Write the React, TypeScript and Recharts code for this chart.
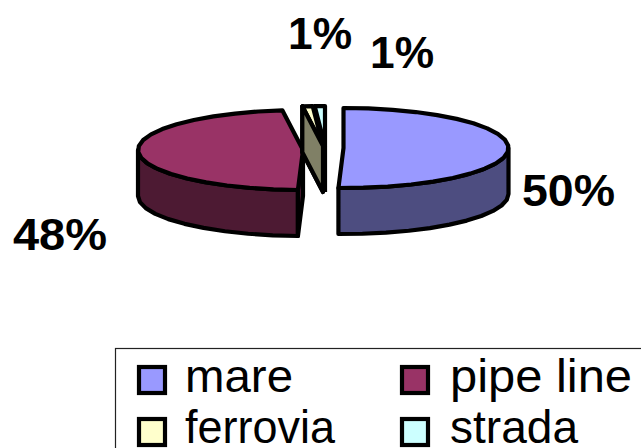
import React from "react";
import { PieChart, Pie, Legend } from "recharts";

const categories = ["mare", "pipe line", "ferrovia", "strada"];
const shares = [50.49, 47.51, 1, 1];
const topColors = ["#9999ff", "#993366", "#ffffcc", "#ccffff"];
const wallColors = ["#4d4d80", "#4d1a33", "#808066", "#668080"];

const rows = categories.map((name, i) => ({ name, value: shares[i], fill: topColors[i] }));

const FONT = "'Liberation Sans', Arial, sans-serif";
const RY = 40;
const DEPTH = 46;
const STROKE = 4.2;
const EXPLODE: Record<string, [number, number]> = {
  mare: [20, 0],
  "pipe line": [-20.5, 2],
  ferrovia: [-0.5, -2],
  strada: [1.5, -2],
};
const LABELS = [
  { x: 522, y: 206, w: 93 },
  { x: 13, y: 250, w: 94 },
  { x: 288, y: 49, w: 64 },
  { x: 370, y: 68, w: 64 },
];

const pts = (list: number[][]) => list.map((p) => p.join(",")).join(" ");

function rim(cx: number, cy: number, r: number, a0: number, a1: number) {
  const out: number[][] = [];
  const n = Math.max(1, Math.ceil(Math.abs(a1 - a0) / 9));
  for (let i = 0; i <= n; i++) {
    const a = ((a0 + ((a1 - a0) * i) / n) * Math.PI) / 180;
    out.push([cx + r * Math.cos(a), cy - RY * Math.sin(a)]);
  }
  return out;
}

function Slice(props: any) {
  const { outerRadius, startAngle, endAngle, name } = props;
  const i = categories.indexOf(name ?? props.payload?.name);
  const [dx, dy] = EXPLODE[categories[i]];
  const cx = props.cx + dx;
  const cy = props.cy + dy;
  const style = { stroke: "#000", strokeWidth: STROKE, strokeLinejoin: "round" as const };
  const top = [[cx, cy], ...rim(cx, cy, outerRadius, startAngle, endAngle)];
  const lo = Math.max(endAngle, -180);
  const hi = Math.min(startAngle, 0);
  const outer = hi > lo ? rim(cx, cy, outerRadius, hi, lo) : [];
  const outerWall = [...outer, ...outer.map(([x, y]) => [x, y + DEPTH]).reverse()];
  const edge = rim(cx, cy, outerRadius, startAngle, startAngle)[0];
  const cut = [[cx, cy], edge, [edge[0], edge[1] + DEPTH], [cx, cy + DEPTH]];
  const hasCut = i === 1 || i === 2;
  return (
    <g>
      {outerWall.length > 0 && <polygon points={pts(outerWall)} fill={wallColors[i]} {...style} />}
      {hasCut && <polygon points={pts(cut)} fill={wallColors[i]} {...style} />}
      {i === 3 && <line x1={cx} y1={cy} x2={cx} y2={cy + DEPTH} {...style} />}
      <polygon points={pts(top)} fill={topColors[i]} {...style} />
      {i === 2 && <polygon points={pts(cut)} fill={wallColors[i]} {...style} />}
    </g>
  );
}

function PercentLabel(props: any) {
  const { index, percent } = props;
  const s = LABELS[index];
  return (
    <text
      x={s.x}
      y={s.y}
      fontFamily={FONT}
      fontWeight="bold"
      fontSize={45}
      fill="#000"
      textLength={s.w}
      lengthAdjust="spacingAndGlyphs"
    >
      {Math.round(percent * 100)}%
    </text>
  );
}

const LEGEND_SLOTS = [
  { sx: 139, tx: 185, base: 392, sy: 367, w: 108 },
  { sx: 402, tx: 450, base: 392, sy: 367, w: 182 },
  { sx: 139, tx: 185, base: 443, sy: 419, w: 150 },
  { sx: 402, tx: 450, base: 443, sy: 419, w: 128 },
];

function LegendBox() {
  return (
    <svg width={641} height={448} style={{ position: "absolute", left: 0, top: 0 }}>
      <rect x={115.5} y={348.5} width={600} height={200} fill="none" stroke="#222" strokeWidth={1.2} />
      {categories.map((name, i) => {
        const s = LEGEND_SLOTS[i];
        return (
          <g key={name}>
            <rect x={s.sx} y={s.sy} width={26} height={26} fill={topColors[i]} stroke="#000" strokeWidth={4.2} />
            <text
              x={s.tx}
              y={s.base}
              fontFamily={FONT}
              fontSize={46}
              fill="#000"
              textLength={s.w}
              lengthAdjust="spacingAndGlyphs"
            >
              {name}
            </text>
          </g>
        );
      })}
    </svg>
  );
}

export default function App() {
  return (
    <div style={{ position: "absolute", left: 0, top: 0, width: 641, height: 448, overflow: "hidden", background: "#fff" }}>
      <PieChart width={641} height={448} margin={{ top: 0, right: 0, bottom: 0, left: 0 }}>
        <Pie
          data={rows}
          dataKey="value"
          nameKey="name"
          cx={323.5}
          cy={148}
          outerRadius={165}
          innerRadius={0}
          startAngle={90}
          endAngle={-270}
          isAnimationActive={false}
          shape={Slice}
          label={PercentLabel}
          labelLine={false}
        />
        <Legend
          content={LegendBox}
          wrapperStyle={{ position: "absolute", left: 0, top: 0, bottom: "auto", width: 641, height: 448 }}
        />
      </PieChart>
    </div>
  );
}
